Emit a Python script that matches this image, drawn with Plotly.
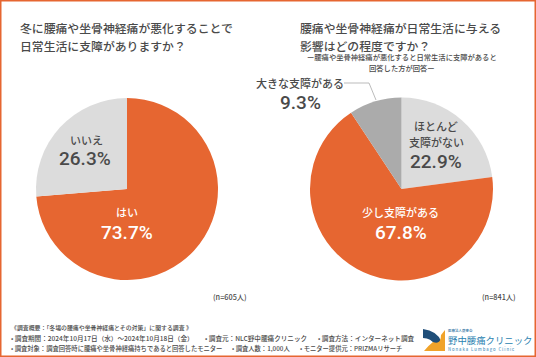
import plotly.graph_objects as go

left_labels = ["はい", "いいえ"]
left_values = [73.7, 26.3]
right_labels = ["ほとんど支障がない", "少し支障がある", "大きな支障がある"]
right_values = [22.9, 67.8, 9.3]
ORANGE = "#E66631"
LIGHT = "#DCDCDC"
DARK = "#ABABAB"
TXT = "#4A4A4A"
FONT = "Noto Sans CJK JP"
NUM = "Roboto"
W, H = 536, 357

fig = go.Figure()
def dom(cx, cy, r):
    return dict(x=[(cx - r) / W, (cx + r) / W], y=[1 - (cy + r) / H, 1 - (cy - r) / H])

fig.add_trace(go.Pie(labels=left_labels, values=left_values, sort=False, direction="clockwise", rotation=0,
                     marker=dict(colors=[ORANGE, LIGHT], line=dict(width=0)), textinfo="none", hoverinfo="label+percent",
                     showlegend=False, domain=dom(127, 189, 91)))
fig.add_trace(go.Pie(labels=right_labels, values=right_values, sort=False, direction="clockwise", rotation=0,
                     marker=dict(colors=[LIGHT, ORANGE, DARK], line=dict(width=0)), textinfo="none", hoverinfo="label+percent",
                     showlegend=False, domain=dom(401.5, 189, 91.5)))

def t(x, y, text, size, color=TXT, anchor="left", weight=500, family=FONT):
    fig.add_annotation(x=x / W, y=1 - y / H, xref="paper", yref="paper", text=text, showarrow=False,
                       xanchor=anchor, yanchor="middle", align=anchor,
                       font=dict(family=family, size=size, color=color, weight=weight), borderpad=0, borderwidth=0)

t(20, 28, "冬に腰痛や坐骨神経痛が悪化することで", 11.85)
t(20, 45, "日常生活に支障がありますか？", 11.85)
t(300, 28, "腰痛や坐骨神経痛が日常生活に与える", 11.85)
t(300, 45, "影響はどの程度ですか？", 11.85)
t(402, 57.5, "ー腰痛や坐骨神経痛が悪化すると日常生活に支障があると", 7.3, anchor="center")
t(402, 67.5, "回答した方が回答ー", 7.3, anchor="center")

t(127, 212, "はい", 11, "#FFFFFF", "center")
t(127, 232, f"{left_values[0]}%", 19, "#FFFFFF", "center", 500, NUM)
t(86, 140, "いいえ", 11, TXT, "center")
t(85, 158, f"{left_values[1]}%", 19, TXT, "center", 500, NUM)
t(436, 126, "ほとんど", 11, TXT, "center")
t(436, 142, "支障がない", 11, TXT, "center")
t(436, 162, f"{right_values[0]}%", 19, TXT, "center", 500, NUM)
t(400, 212, "少し支障がある", 11, "#FFFFFF", "center")
t(401, 232, f"{right_values[1]}%", 19, "#FFFFFF", "center", 500, NUM)
t(300, 83, "大きな支障がある", 11, TXT, "center")
t(300, 103, f"{right_values[2]}%", 19, TXT, "center", 500, NUM)

t(213, 297, "(n=605人)", 7.3)
t(482, 297, "(n=841人)", 7.3)

t(11, 327, "《調査概要：「冬場の腰痛や坐骨神経痛とその対策」に関する調査 》", 5.9)
t(11, 338, "• 調査期間：2024年10月17日（水）～2024年10月18日（金）", 6.6)
t(205, 338, "• 調査元：NLC野中腰痛クリニック", 6.6)
t(318, 338, "• 調査方法：インターネット調査", 6.6)
t(11, 348, "• 調査対象：調査回答時に腰痛や坐骨神経痛持ちであると回答したモニター", 6.3)
t(232, 348, "• 調査人数：1,000人", 6.3)
t(300, 348, "• モニター提供元：PRIZMAリサーチ", 6.3)

t(448, 330, "医療法人慶恵会", 3.5, "#2A6E9E")
t(448, 340, "野中腰痛クリニック", 9.4, "#2A7FB0", weight=400)
t(448, 349, "N o n a k a   L u m b a g o   C l i n i c", 4.2, "#5A9CC5")

def px(x): return x / W
def py(y): return 1 - y / H
shapes = [
    dict(type="rect", xref="paper", yref="paper", x0=0, x1=1, y0=0, y1=1, fillcolor="rgba(0,0,0,0)",
         line=dict(color=ORANGE, width=3)),
    dict(type="path", xref="paper", yref="paper",
         path=f"M {px(344)} {py(83)} L {px(369)} {py(83)} L {px(376)} {py(100)}",
         line=dict(color="#AAAAAA", width=0.8)),
    dict(type="path", xref="paper", yref="paper", fillcolor="#1F4E79", line=dict(width=0),
         path=f"M {px(423)} {py(329)} Q {px(437)} {py(331)} {px(441)} {py(341)} L {px(435)} {py(345)} Q {px(431)} {py(338)} {px(423)} {py(338)} Z"),
    dict(type="path", xref="paper", yref="paper", fillcolor="#F0A32A", line=dict(width=0),
         path=f"M {px(424)} {py(351)} L {px(445)} {py(351)} L {px(445)} {py(330)} L {px(441)} {py(335)} Q {px(441)} {py(345)} {px(433)} {py(342)} Q {px(429)} {py(345)} {px(424)} {py(351)} Z"),
]
fig.update_layout(width=W, height=H, margin=dict(l=0, r=0, t=0, b=0), paper_bgcolor="#FFFFFF", plot_bgcolor="#FFFFFF",
                  font=dict(family=FONT), shapes=shapes)
fig.write_html("out.html", config=dict(displayModeBar=False),
               post_script="document.body.style.margin='0';document.body.style.overflow='hidden';")
